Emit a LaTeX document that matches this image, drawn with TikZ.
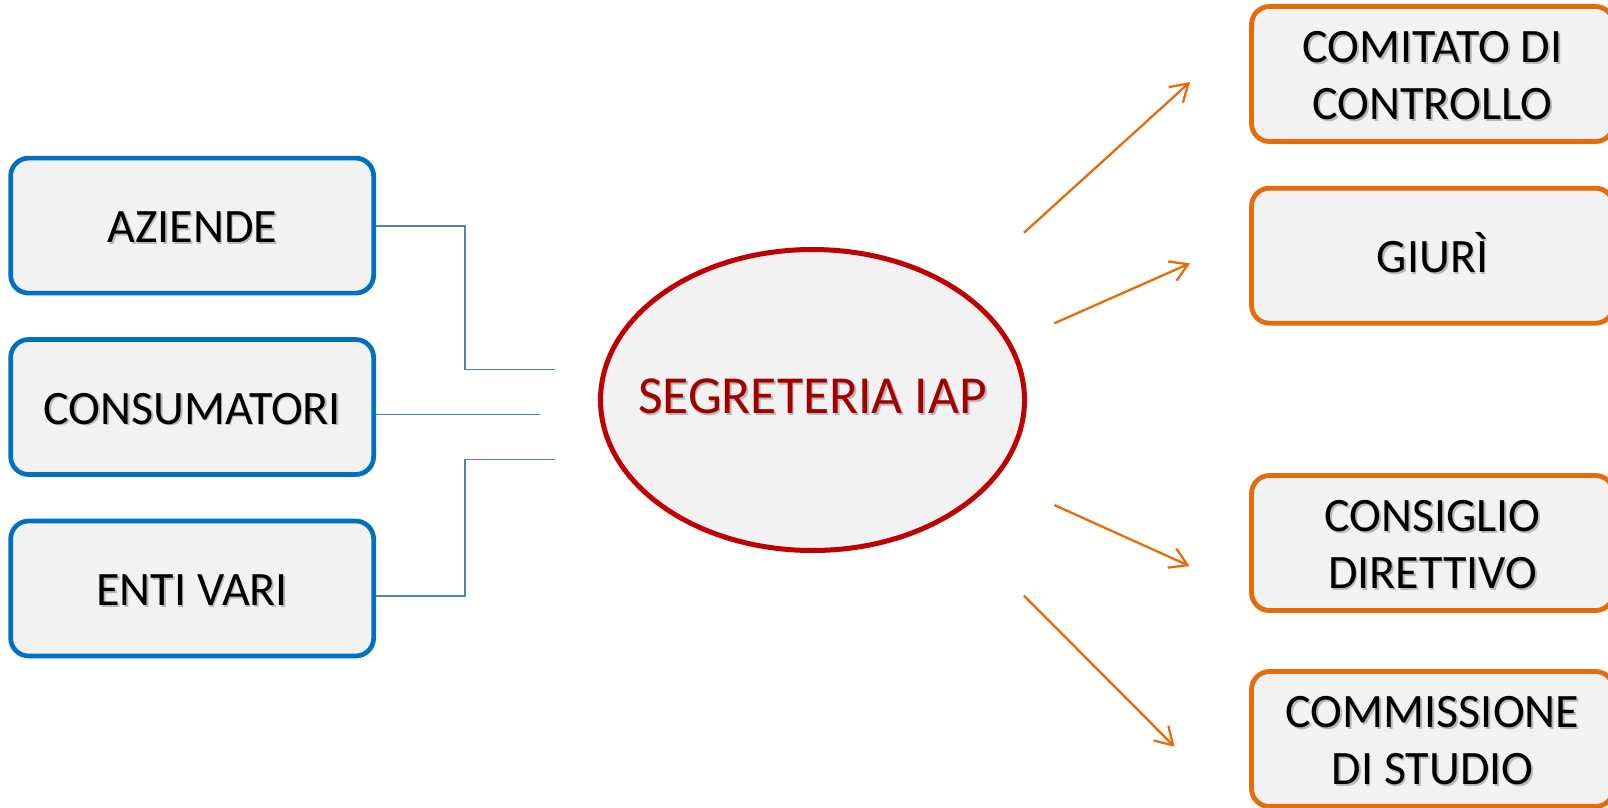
\documentclass[tikz,border=0pt]{standalone}
\usepackage{fontspec}
\setmainfont{Carlito}
\usetikzlibrary{arrows.meta,shapes.geometric}
\definecolor{bluebd}{HTML}{0070C0}
\definecolor{bluecn}{HTML}{4F81BD}
\definecolor{orng}{HTML}{E46C0A}
\definecolor{redbd}{HTML}{C00000}
\definecolor{redtx}{HTML}{A00000}
\definecolor{boxfill}{HTML}{F2F2F2}
% one line of text with a soft drop shadow, centred on its capitals and set 1.6pt low
\newcommand\shd[1]{\leavevmode\rule{0pt}{0.644em}\smash{\raisebox{-1.6pt}{\rlap{\kern1.8pt\raisebox{-1.8pt}{\textcolor{black!28}{#1}}}#1}}}
\begin{document}
\begin{tikzpicture}[x=1pt,y=1pt,
  boxtxt/.style={font=\fontsize{48}{57}\selectfont, align=center, inner sep=0pt, fill=boxfill, rounded corners=18pt, minimum height=135pt},
  lbox/.style={boxtxt, draw=bluebd, line width=4.7pt, minimum width=363pt},
  rbox/.style={boxtxt, draw=orng, line width=4.8pt, minimum width=362pt},
  mainell/.style={ellipse, draw=redbd, line width=5pt, fill=boxfill, minimum width=424pt, minimum height=301pt, inner sep=0pt},
  segtext/.style={text=redtx, font=\fontsize{53.5}{60}\selectfont, inner sep=0pt},
  link/.style={draw=bluecn, line width=1.6pt},
  arr/.style={draw=orng, line width=2.3pt, -{Straight Barb[length=17pt,width=21pt]}}
]
\useasboundingbox (0,0) rectangle (1608,-807);
\fill[white] (0,0) rectangle (1608,-807);

% left boxes
\node[lbox] (az) at (192.15,-225.6) {\shd{AZIENDE}};
\node[lbox] (co) at (192.15,-407) {\shd{CONSUMATORI}};
\node[lbox] (en) at (192.15,-588.5) {\shd{ENTI VARI}};

% central ellipse
\node[mainell, label={[segtext,yshift=4.9pt]center:\shd{SEGRETERIA IAP}}] (seg) at (812.5,-400) {};

% right boxes
\node[rbox] (cc) at (1432.5,-74) {\shd{COMITATO DI}\\\shd{CONTROLLO}};
\node[rbox] (gi) at (1432.5,-255.7) {\shd{GIURÌ}};
\node[rbox] (cd) at (1432.5,-543) {\shd{CONSIGLIO}\\\shd{DIRETTIVO}};
\node[rbox] (cs) at (1432.5,-739) {\shd{COMMISSIONE}\\\shd{DI STUDIO}};

% left connector ends
\coordinate (azend) at (555.3,-369.3);
\coordinate (coend) at (540.3,-414.3);
\coordinate (enend) at (555.3,-459.3);
\coordinate (azbend) at (464.7,-369.3);
\coordinate (enbend) at (464.7,-459.3);

\draw[link] ([yshift=-0.4pt]az.east) -| (azbend) -- (azend);
\draw[link] ([yshift=-7.3pt]co.east) -- (coend);
\draw[link] ([yshift=-7.2pt]en.east) -| (enbend) -- (enend);

% arrows
\coordinate (a1s) at (1024,-232.7);
\coordinate (a1e) at (1190,-82);
\coordinate (a2s) at (1054.3,-323.3);
\coordinate (a2e) at (1190,-263.3);
\coordinate (a3s) at (1054.3,-505);
\coordinate (a3e) at (1189.5,-566);
\coordinate (a4s) at (1024,-595.7);
\coordinate (a4e) at (1174.5,-746.7);

\draw[arr] (a1s) -- (a1e);
\draw[arr] (a2s) -- (a2e);
\draw[arr] (a3s) -- (a3e);
\draw[arr] (a4s) -- (a4e);
\end{tikzpicture}
\end{document}
